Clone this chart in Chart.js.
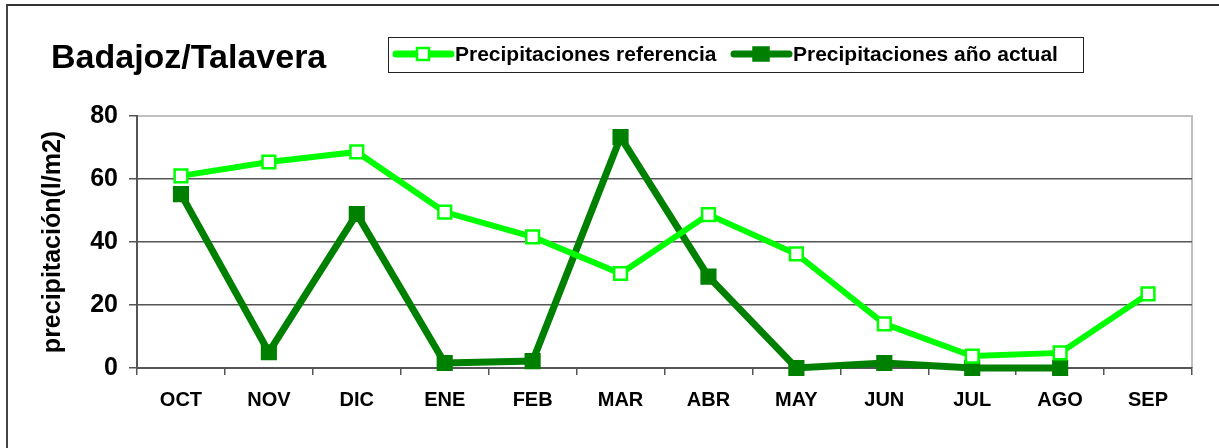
<!DOCTYPE html>
<html>
<head>
<meta charset="utf-8">
<script src="https://cdn.jsdelivr.net/npm/chart.js@4.4.1/dist/chart.umd.min.js"></script>
<style>
  html, body { margin: 0; padding: 0; background: #fff; }
  #wrap { position: relative; width: 1219px; height: 448px; overflow: hidden; }
  #frame { position: absolute; left: 6px; top: 4px; width: 1300px; height: 500px;
           border-top: 2px solid #333; border-left: 2px solid #444; }
  canvas { position: absolute; left: 0; top: 0; }
</style>
</head>
<body>
<div id="wrap">
  <div id="frame"></div>
  <canvas id="chart" width="1219" height="448"></canvas>
</div>
<script>
const months = ['OCT', 'NOV', 'DIC', 'ENE', 'FEB', 'MAR', 'ABR', 'MAY', 'JUN', 'JUL', 'AGO', 'SEP'];
const refValues = [61, 65.4, 68.6, 49.5, 41.6, 30, 48.7, 36.2, 14, 3.8, 4.8, 23.5];
const actualValues = [55.2, 5, 48.9, 1.6, 2.2, 73.3, 29, 0, 1.6, 0, 0, null];
const yTicks = [0, 20, 40, 60, 80];

const chartTitle = 'Badajoz/Talavera';
const refLabel = 'Precipitaciones referencia';
const actualLabel = 'Precipitaciones año actual';
const yTitle = 'precipitación(l/m2)';

const FONT = "'Liberation Sans', Arial, sans-serif";
const LIGHT = '#00ff00';
const DARK = '#008000';

// marco gris claro del area de trazado + titulo y leyenda manual
const decor = {
  id: 'decor',
  beforeDraw(chart) {
    const { ctx, chartArea: a } = chart;
    ctx.save();
    ctx.strokeStyle = '#c0c0c0';
    ctx.lineWidth = 2;
    ctx.beginPath();
    ctx.moveTo(a.left, a.top);
    ctx.lineTo(a.right, a.top);
    ctx.lineTo(a.right, a.bottom);
    ctx.stroke();
    ctx.restore();
  },
  afterDraw(chart) {
    const ctx = chart.ctx;
    ctx.save();
    ctx.fillStyle = '#000';
    ctx.font = 'bold 34px ' + FONT;
    ctx.textBaseline = 'alphabetic';
    ctx.fillText(chartTitle, 51, 68);

    // caja de leyenda
    ctx.strokeStyle = '#222';
    ctx.lineWidth = 1;
    ctx.strokeRect(388.5, 37.5, 695, 35);

    const items = [
      { x: 393, label: refLabel, color: LIGHT, fill: '#fff', w: 12, h: 12 },
      { x: 731, label: actualLabel, color: DARK, fill: DARK, w: 15, h: 13 }
    ];
    items.forEach(it => {
      const cy = 54;
      ctx.strokeStyle = it.color;
      ctx.lineWidth = 7;
      ctx.lineCap = 'round';
      ctx.beginPath();
      ctx.moveTo(it.x + 3, cy);
      ctx.lineTo(it.x + 58, cy);
      ctx.stroke();
      const mx = it.x + 30;
      ctx.fillStyle = it.fill;
      ctx.lineWidth = 2.5;
      ctx.fillRect(mx - it.w / 2, cy - it.h / 2, it.w, it.h);
      ctx.strokeRect(mx - it.w / 2, cy - it.h / 2, it.w, it.h);
      ctx.fillStyle = '#000';
      ctx.font = 'bold 21px ' + FONT;
      ctx.textBaseline = 'middle';
      ctx.fillText(it.label, it.x + 62, cy + 1);
    });
    ctx.restore();
  }
};

new Chart(document.getElementById('chart'), {
  type: 'line',
  data: {
    labels: months,
    datasets: [
      {
        label: refLabel,
        data: refValues,
        borderColor: LIGHT,
        borderWidth: 6,
        pointStyle: 'rect',
        pointRadius: 9,
        pointBorderWidth: 2.5,
        pointBackgroundColor: '#fff',
        pointBorderColor: LIGHT,
        tension: 0,
        clip: false
      },
      {
        label: actualLabel,
        data: actualValues,
        borderColor: DARK,
        borderWidth: 7,
        pointStyle: 'rect',
        pointRadius: 10,
        pointBorderWidth: 2,
        pointBackgroundColor: DARK,
        pointBorderColor: DARK,
        tension: 0,
        spanGaps: false,
        clip: false
      }
    ]
  },
  options: {
    responsive: false,
    animation: false,
    events: [],
    layout: { padding: { left: 0, top: 116, right: 27, bottom: 20 } },
    plugins: {
      legend: { display: false },
      title: { display: false },
      tooltip: { enabled: false }
    },
    scales: {
      x: {
        offset: true,
        grid: {
          display: true,
          offset: true,
          drawOnChartArea: false,
          drawTicks: true,
          tickLength: 7,
          color: '#555',
          lineWidth: 1.5
        },
        border: { display: true, color: '#555', width: 2 },
        ticks: {
          color: '#000',
          font: { family: FONT, size: 20, weight: 'bold' },
          padding: 13,
          maxRotation: 0,
          autoSkip: false
        },
        afterFit(scale) { scale.height = 60; }
      },
      y: {
        min: 0,
        max: 80,
        afterBuildTicks(scale) { scale.ticks = yTicks.map(v => ({ value: v })); },
        grid: {
          color: ctx => (ctx.tick && ctx.tick.value === 80 ? '#c0c0c0' : '#555'),
          tickColor: '#555',
          lineWidth: 1.5,
          tickLength: 8
        },
        border: { display: true, color: '#555', width: 2 },
        ticks: {
          color: '#000',
          font: { family: FONT, size: 25, weight: 'bold' },
          padding: 11
        },
        title: {
          display: true,
          text: yTitle,
          color: '#000',
          font: { family: FONT, size: 25, weight: 'bold' },
          padding: { top: 38, bottom: 0 }
        },
        afterFit(scale) { scale.width = 137; }
      }
    }
  },
  plugins: [decor]
});
</script>
</body>
</html>
